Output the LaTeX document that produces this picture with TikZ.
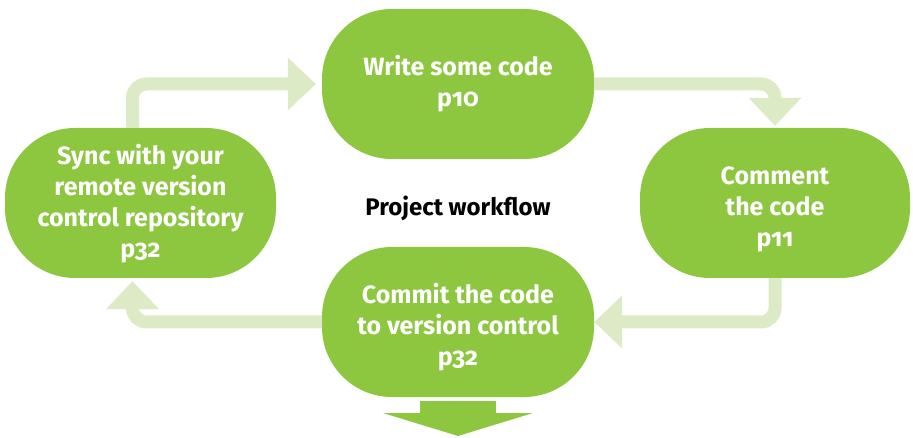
\documentclass[tikz,border=0pt]{standalone}
\usepackage{fontspec}
\setmainfont{Fira Sans}[Numbers=OldStyle]
\usetikzlibrary{arrows.meta}

\definecolor{leaf}{HTML}{8DC63F}
\definecolor{pale}{HTML}{DCEAC5}

\tikzset{
  stepbox/.style={rectangle, rounded corners=70pt, fill=leaf, text=white,
    minimum width=272pt, minimum height=150pt, inner sep=0pt, align=center,
    font=\fontsize{25}{31}\selectfont\bfseries},
  flow/.style={draw=pale, line width=13pt, rounded corners=14pt,
    -{Triangle[width=53pt 0, length=28pt 0, line width=0pt 0]}}
}
% 一行目を下げる
\newcommand{\sinkby}[1]{\rule{0pt}{#1}}

\begin{document}
\begin{tikzpicture}[x=1pt, y=-1pt]
    \useasboundingbox (0,0) rectangle (913,438);

    % 箱を置く
    \node[stepbox] (write) at (458, 84) {Write some code\\p10};
    \node[stepbox, minimum width=270pt] (comment) at (775, 203) {\sinkby{31pt}Comment\\the code\\p11};
    \node[stepbox] (commit) at (458, 322) {\sinkby{30pt}Commit the code\\to version control\\p32};
    \node[stepbox, minimum width=271pt] (sync) at (140.5, 203) {\sinkby{22pt}Sync with your\\remote version\\control repository\\p32};

    \node[font=\fontsize{24}{28}\selectfont\bfseries] (title) at (458, 208) {Project workflow};

    % 線を引く
    \draw[flow, shorten >=6pt] ([xshift=-8pt]sync.north) |- (write.west);
    \draw[flow, shorten >=2pt] (write.east) -| (comment.north);
    \draw[flow] (comment.south) |- (commit.east);
    \draw[flow, shorten >=3pt] (commit.west) -| ([xshift=-8pt]sync.south);

    % 次へ
    \coordinate (next) at (458, 436);
    \draw[draw=leaf, line width=76pt, shorten <=4pt,
      -{Triangle[width=150pt 0, length=23pt 0, line width=0pt 0]}] (commit.south) -- (next);
  \end{tikzpicture}
\end{document}
